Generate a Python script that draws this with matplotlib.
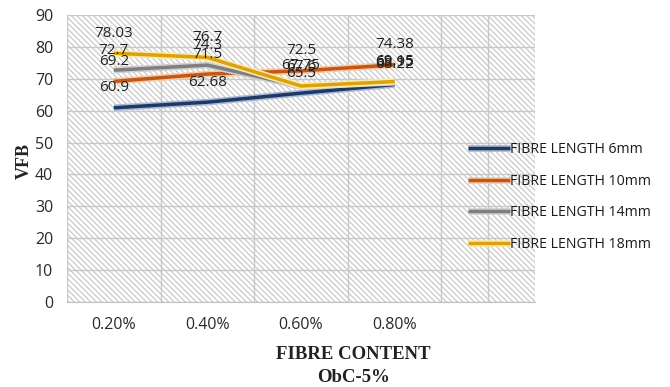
import matplotlib.pyplot as plt
import matplotlib.patheffects as pe
from matplotlib.patches import Rectangle

# fibre content categories and VFB values per fibre length
contents = ["0.20%", "0.40%", "0.60%", "0.80%"]
vfb_6mm = [60.9, 62.68, 65.5, 68.22]
vfb_10mm = [69.2, 71.5, 72.5, 74.38]
vfb_14mm = [72.7, 74.3, 67.6, 68.95]
vfb_18mm = [78.03, 76.7, 67.75, 69.15]

series = [
    ("FIBRE LENGTH 6mm", vfb_6mm, "#1F3864", "#a9b8d6"),
    ("FIBRE LENGTH 10mm", vfb_10mm, "#C0581A", "#f7c9a0"),
    ("FIBRE LENGTH 14mm", vfb_14mm, "#7F7F7F", "#d0d0d0"),
    ("FIBRE LENGTH 18mm", vfb_18mm, "#D9A20E", "#fde9a8"),
]

plt.rcParams["font.family"] = ["Open Sans", "DejaVu Sans"]
plt.rcParams["hatch.linewidth"] = 0.8

fig = plt.figure(figsize=(6.7, 3.87), dpi=100)
ax = fig.add_axes([0.1, 0.22, 0.6985, 0.741])
ax.set_xlim(-0.5, 4.5)
ax.set_ylim(0, 90)

# hatched plot background
ax.add_patch(Rectangle((0, 0), 1, 1, transform=ax.transAxes, facecolor="white",
                       edgecolor="#c4c4c4", hatch="\\\\\\\\\\\\", linewidth=0, zorder=0))

ax.set_yticks(range(0, 91, 10))
ax.set_xticks(range(len(contents)))
ax.set_xticklabels(contents)
ax.set_xticks([x * 0.5 - 0.5 for x in range(11)], minor=True)
ax.grid(True, axis="y", color="#c8c8c8", linewidth=1, zorder=1)
ax.grid(True, axis="x", which="minor", color="#c8c8c8", linewidth=1, zorder=1)
ax.tick_params(axis="both", which="both", length=0, labelsize=11.5, colors="#2a2a2a")
ax.tick_params(axis="x", pad=11)
ax.tick_params(axis="y", pad=10)
for s in ax.spines.values():
    s.set_visible(False)
ax.spines["bottom"].set_visible(True)
ax.spines["bottom"].set_color("#bfbfbf")
ax.set_axisbelow(True)

xs = list(range(len(contents)))
handles = []
for name, vals, col, glow in series:
    ln, = ax.plot(xs, vals, color=col, linewidth=2.5, label=name, zorder=3,
                  solid_capstyle="butt",
                  path_effects=[pe.Stroke(linewidth=4.8, foreground=glow), pe.Normal()])
    handles.append(ln)
    for x, v in zip(xs, vals):
        ax.annotate(f"{v:g}", (x, v), xytext=(0, 9), textcoords="offset points",
                    ha="center", va="bottom", fontsize=11, color="#222222", zorder=4)

fig.legend(handles=handles, loc="upper left", bbox_to_anchor=(0.679, 0.665),
           frameon=False, fontsize=10.2, handlelength=3.0, handletextpad=0.0,
           labelspacing=1.16, labelcolor="#1a1a1a")

serif = ["Liberation Serif", "DejaVu Serif"]
fig.text(0.036, 0.585, "VFB", rotation=90, ha="center", va="center",
         fontsize=13, fontweight="bold", family=serif, color="#222222")
fig.text(0.527, 0.085, "FIBRE CONTENT", ha="center", va="center",
         fontsize=13.5, fontweight="bold", family=serif, color="#222222")
fig.text(0.527, 0.024, "ObC-5%", ha="center", va="center",
         fontsize=13.5, fontweight="bold", family=serif, color="#222222")

fig.savefig("out.png", dpi=100)
